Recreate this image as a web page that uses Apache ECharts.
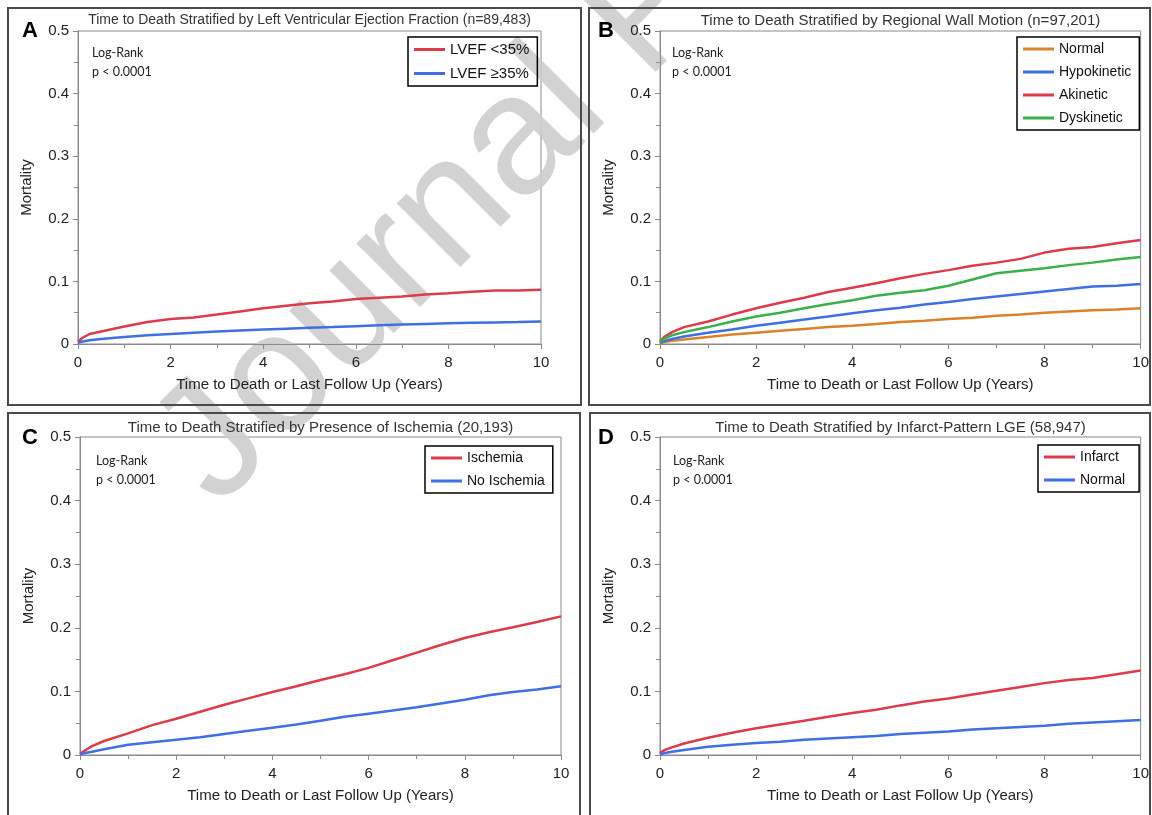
<!DOCTYPE html>
<html>
<head>
<meta charset="utf-8">
<script src="https://cdn.jsdelivr.net/npm/echarts@6/dist/echarts.min.js"></script>
<style>
html,body{margin:0;padding:0;background:#fff;}
#chart{width:1152px;height:815px;}
</style>
</head>
<body>
<div id="chart"></div>
<script>
// ---------- data ----------
const years = [0, 0.1, 0.25, 0.5, 1, 1.5, 2, 2.5, 3, 3.5, 4, 4.5, 5, 5.5, 6, 6.5, 7, 7.5, 8, 8.5, 9, 9.5, 10];

// Panel A: LVEF
const lvefLow  = [0.004,0.010,0.016,0.020,0.028,0.035,0.040,0.0425,0.047,0.052,0.057,0.061,0.065,0.068,0.072,0.074,0.076,0.079,0.081,0.0835,0.0855,0.0855,0.0865];
const lvefHigh = [0.002,0.004,0.006,0.008,0.011,0.014,0.016,0.018,0.020,0.0215,0.023,0.0245,0.026,0.027,0.0285,0.030,0.031,0.032,0.033,0.034,0.0345,0.035,0.036];

// Panel B: regional wall motion
const wmNormal      = [0.001,0.003,0.005,0.007,0.011,0.015,0.018,0.021,0.024,0.027,0.029,0.032,0.035,0.037,0.040,0.042,0.045,0.047,0.050,0.052,0.054,0.055,0.057];
const wmHypokinetic = [0.002,0.005,0.008,0.012,0.018,0.023,0.029,0.034,0.039,0.044,0.049,0.054,0.058,0.063,0.067,0.072,0.076,0.080,0.084,0.088,0.092,0.093,0.096];
const wmAkinetic    = [0.004,0.012,0.019,0.027,0.036,0.047,0.057,0.066,0.074,0.083,0.090,0.097,0.105,0.112,0.118,0.125,0.130,0.136,0.146,0.152,0.155,0.161,0.166];
const wmDyskinetic  = [0.003,0.009,0.014,0.019,0.027,0.036,0.044,0.050,0.057,0.064,0.070,0.077,0.082,0.086,0.093,0.103,0.113,0.117,0.121,0.126,0.130,0.135,0.139];

// Panel C: ischemia
const ischemia   = [0.002,0.007,0.014,0.022,0.034,0.047,0.057,0.068,0.079,0.089,0.099,0.108,0.118,0.127,0.137,0.149,0.161,0.173,0.184,0.193,0.201,0.209,0.218];
const noIschemia = [0.001,0.003,0.005,0.009,0.016,0.020,0.024,0.028,0.033,0.038,0.043,0.048,0.054,0.060,0.065,0.070,0.075,0.081,0.087,0.094,0.099,0.103,0.108];

// Panel D: infarct-pattern LGE
const lgeInfarct = [0.003,0.008,0.012,0.018,0.027,0.035,0.042,0.048,0.054,0.060,0.066,0.071,0.078,0.084,0.089,0.095,0.101,0.107,0.113,0.118,0.121,0.127,0.133];
const lgeNormal  = [0.001,0.003,0.005,0.008,0.013,0.016,0.019,0.021,0.024,0.026,0.028,0.030,0.033,0.035,0.037,0.040,0.042,0.044,0.046,0.049,0.051,0.053,0.055];

const panelTitles = [
  'Time to Death Stratified by Left Ventricular Ejection Fraction (n=89,483)',
  'Time to Death Stratified by Regional Wall Motion (n=97,201)',
  'Time to Death Stratified by Presence of Ischemia (20,193)',
  'Time to Death Stratified by Infarct-Pattern LGE (58,947)'
];
const panelLetters = ['A','B','C','D'];
const xAxisTitle = 'Time to Death or Last Follow Up (Years)';
const yAxisTitle = 'Mortality';
const statLines = ['Log-Rank', 'p < 0.0001'];
const watermark = 'Journal Pre-proof';

// ---------- styling / layout ----------
const RED = '#dc3b4b', BLUE = '#3e6fe3', ORANGE = '#d9822b', GREEN = '#3bb04a';
const FONT = '"Liberation Sans", Arial, sans-serif';
const grids = [
  {left: 78,  right: 611, top: 31,  bottom: 471},
  {left: 660, right: 11,  top: 31,  bottom: 471},
  {left: 80,  right: 591, top: 437, bottom: 60},
  {left: 660, right: 11,  top: 437, bottom: 60}
];
const frames = [
  [8, 8, 573, 397], [589, 8, 561, 397], [8, 413, 572, 410], [590, 413, 560, 410]
];
const titleFont = [14, 15, 15, 15];
const letterPos = [[22, 20], [598, 20], [22, 427], [598, 427]];
const statPos = [[92, 43], [672, 43], [96, 451], [673, 451]];

const seriesDefs = [
  {name: 'LVEF <35%', data: lvefLow, color: RED, g: 0},
  {name: 'LVEF ≥35%', data: lvefHigh, color: BLUE, g: 0},
  {name: 'Normal', data: wmNormal, color: ORANGE, g: 1},
  {name: 'Hypokinetic', data: wmHypokinetic, color: BLUE, g: 1},
  {name: 'Akinetic', data: wmAkinetic, color: RED, g: 1},
  {name: 'Dyskinetic', data: wmDyskinetic, color: GREEN, g: 1},
  {name: 'Ischemia', data: ischemia, color: RED, g: 2},
  {name: 'No Ischemia', data: noIschemia, color: BLUE, g: 2},
  {name: 'Infarct', data: lgeInfarct, color: RED, g: 3},
  {name: 'Normal (LGE)', data: lgeNormal, color: BLUE, g: 3}
];

const legendDefs = [
  {left: 408, top: 37, names: ['LVEF <35%', 'LVEF ≥35%'], fs: 15, pr: 8},
  {left: 1017, top: 37, names: ['Normal', 'Hypokinetic', 'Akinetic', 'Dyskinetic'], fs: 14, pr: 8},
  {left: 425, top: 446, names: ['Ischemia', 'No Ischemia'], fs: 14, pr: 8},
  {left: 1038, top: 445, names: ['Infarct', 'Normal (LGE)'], fs: 14, pr: 14}
];

const axisColor = '#8a8a8a';
const option = {
  animation: false,
  backgroundColor: '#fff',
  title: panelTitles.map((t, i) => ({
    text: t,
    left: grids[i].left + (1152 - grids[i].left - grids[i].right) / 2,
    textAlign: 'center',
    top: i < 2 ? 13 : 420,
    padding: 0,
    textStyle: {fontSize: titleFont[i], fontWeight: 'normal', color: '#333', fontFamily: FONT}
  })),
  grid: grids.map(g => Object.assign({show: true, borderColor: axisColor, borderWidth: 1, backgroundColor: 'transparent'}, g)),
  xAxis: grids.map((g, i) => ({
    gridIndex: i, type: 'value', min: 0, max: 10, interval: 2,
    axisLine: {show: true, onZero: false, lineStyle: {color: axisColor, width: 1}},
    axisTick: {show: true, length: 5, lineStyle: {color: axisColor}},
    minorTick: {show: true, splitNumber: 2, length: 4, lineStyle: {color: axisColor}},
    splitLine: {show: false},
    axisLabel: {fontSize: 15, color: '#222', margin: 11, fontFamily: FONT},
    name: xAxisTitle, nameLocation: 'middle', nameGap: 33,
    nameTextStyle: {fontSize: 15, color: '#222', fontFamily: FONT}
  })),
  yAxis: grids.map((g, i) => ({
    gridIndex: i, type: 'value', min: 0, max: 0.5, interval: 0.1,
    axisLine: {show: true, onZero: false, lineStyle: {color: axisColor, width: 1}},
    axisTick: {show: true, length: 5, lineStyle: {color: axisColor}},
    minorTick: {show: true, splitNumber: 2, length: 4, lineStyle: {color: axisColor}},
    splitLine: {show: false},
    axisLabel: {fontSize: 15, color: '#222', margin: 9, fontFamily: FONT,
      formatter: v => (v === 0 ? '0' : v.toFixed(1))},
    name: yAxisTitle, nameLocation: 'middle', nameGap: 44,
    nameTextStyle: {fontSize: 15, color: '#222', fontFamily: FONT}
  })),
  legend: legendDefs.map(l => ({
    left: l.left, top: l.top, orient: 'vertical', data: l.names,
    icon: 'rect', itemWidth: 31, itemHeight: 3, itemGap: 9,
    padding: [5, l.pr, 5, 6], borderColor: '#000', borderWidth: 1.5,
    selectedMode: false,
    formatter: n => n.replace(' (LGE)', ''),
    textStyle: {fontSize: l.fs, color: '#111', fontFamily: FONT, padding: [0, 0, 0, 0]}
  })),
  series: seriesDefs.map(s => ({
    type: 'line', name: s.name, xAxisIndex: s.g, yAxisIndex: s.g,
    data: years.map((t, k) => [t, s.data[k]]),
    symbol: 'none', showSymbol: false, smooth: false,
    color: s.color,
    lineStyle: {color: s.color, width: 2.5},
    z: 3
  })),
  graphic: [
    {
      type: 'text', z: 0, zlevel: 0,
      x: 245, y: 536, rotation: 45 * Math.PI / 180,
      style: {text: watermark, font: '170px "Liberation Sans", Arial, sans-serif', fill: 'rgba(205,205,205,0.9)', textVerticalAlign: 'bottom'}
    }
  ].concat(frames.map(f => ({
    type: 'rect', z: 1, shape: {x: f[0], y: f[1], width: f[2], height: f[3]},
    style: {fill: 'none', stroke: '#4a4a4a', lineWidth: 2}
  }))).concat(panelLetters.map((L, i) => ({
    type: 'text', z: 5, x: letterPos[i][0], y: letterPos[i][1],
    style: {text: L, font: 'bold 22px "Liberation Sans", Arial, sans-serif', fill: '#000'}
  }))).concat(statPos.map(p => ({
    type: 'text', z: 5, x: p[0], y: p[1],
    style: {text: statLines.join('\n'), font: '12.5px Lato, "Open Sans", sans-serif', fill: '#222', lineHeight: 19}
  })))
};

const chart = echarts.init(document.getElementById('chart'), null, {renderer: 'canvas'});
chart.setOption(option);
</script>
</body>
</html>
